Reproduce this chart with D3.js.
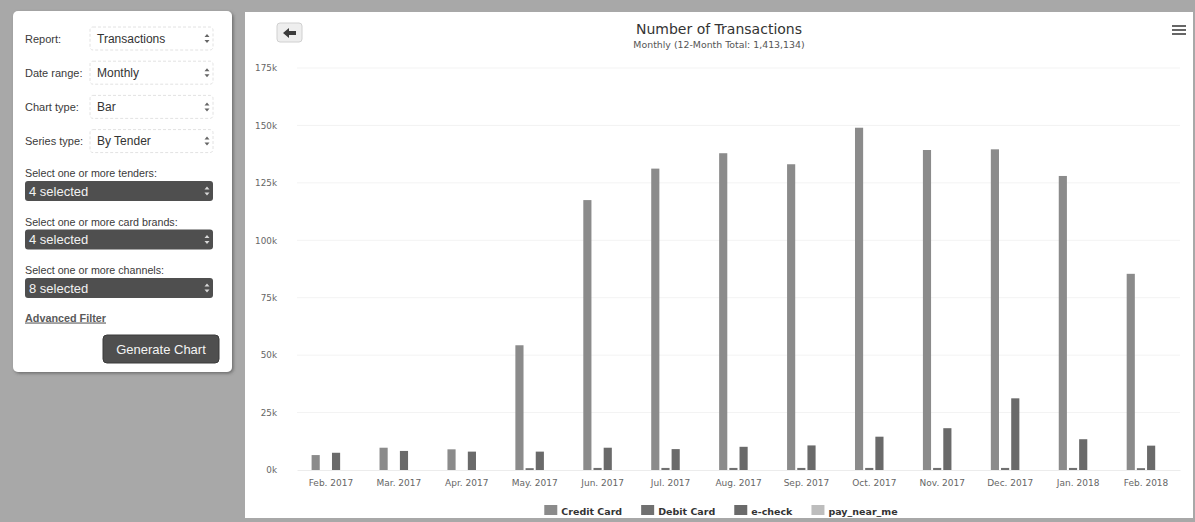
<!DOCTYPE html>
<html>
<head>
<meta charset="utf-8">
<script src="https://cdn.jsdelivr.net/npm/d3@7"></script>
<style>
  html, body { margin: 0; padding: 0; background: #a8a8a8; }
  svg { display: block; }
</style>
</head>
<body>
<svg id="view" width="1195" height="522"></svg>
<script>
// ---- chart data (transactions per month, by tender) ----
const months = ["Feb. 2017", "Mar. 2017", "Apr. 2017", "May. 2017", "Jun. 2017", "Jul. 2017",
                "Aug. 2017", "Sep. 2017", "Oct. 2017", "Nov. 2017", "Dec. 2017", "Jan. 2018", "Feb. 2018"];
const creditCard = [6500, 9700, 9000, 54300, 117500, 131200, 137900, 133100, 149000, 139300, 139600, 128000, 85400];
const debitCard  = [0, 0, 0, 800, 900, 900, 900, 900, 900, 900, 900, 900, 800];
const eCheck     = [7500, 8300, 8000, 8000, 9700, 9100, 10100, 10700, 14500, 18200, 31200, 13400, 10600];
const payNearMe  = [0, 0, 0, 0, 0, 0, 0, 0, 0, 0, 0, 0, 0];
const seriesNames = ["Credit Card", "Debit Card", "e-check", "pay_near_me"];
const yTicks = [0, 25000, 50000, 75000, 100000, 125000, 150000, 175000];
const chartTitle = "Number of Transactions";
const chartSubtitle = "Monthly (12-Month Total: 1,413,134)";

// ---- report form contents ----
const formLabels = ["Report:", "Date range:", "Chart type:", "Series type:"];
const formValues = ["Transactions", "Monthly", "Bar", "By Tender"];
const pickerLabels = ["Select one or more tenders:", "Select one or more card brands:", "Select one or more channels:"];
const pickerValues = ["4 selected", "4 selected", "8 selected"];

const seriesValues = [creditCard, debitCard, eCheck, payNearMe];
const seriesColors = ["#8b8b8b", "#707070", "#6a6a6a", "#bdbdbd"];

const svg = d3.select("#view");
const defs = svg.append("defs");
const shadow = defs.append("filter").attr("id", "panelShadow")
  .attr("x", "-10%").attr("y", "-10%").attr("width", "130%").attr("height", "130%");
shadow.append("feDropShadow").attr("dx", 1.5).attr("dy", 1.5).attr("stdDeviation", 1.5)
  .attr("flood-color", "#444").attr("flood-opacity", 0.6);

// page background
svg.append("rect").attr("width", 1195).attr("height", 522).attr("fill", "#a8a8a8");

// ================= left form panel =================
const form = svg.append("g");
form.append("rect").attr("x", 13).attr("y", 11).attr("width", 219).attr("height", 361)
  .attr("rx", 5).attr("fill", "#ffffff").attr("filter", "url(#panelShadow)");

const sansUI = "'Liberation Sans', Arial, sans-serif";

function upDownCaret(g, cx, cy, color) {
  g.append("path")
    .attr("d", `M${cx - 2.5},${cy - 1.5} L${cx},${cy - 4.5} L${cx + 2.5},${cy - 1.5} Z M${cx - 2.5},${cy + 1.5} L${cx},${cy + 4.5} L${cx + 2.5},${cy + 1.5} Z`)
    .attr("fill", color);
}

formLabels.forEach((lab, i) => {
  const cy = 38.5 + i * 34.2;
  form.append("text").attr("x", 25).attr("y", cy + 4)
    .attr("font-family", sansUI).attr("font-size", 11).attr("fill", "#3a3a3a").text(lab);
  form.append("rect").attr("x", 90).attr("y", cy - 11.5).attr("width", 123).attr("height", 23)
    .attr("rx", 3).attr("fill", "#ffffff").attr("stroke", "#e2e2e2").attr("stroke-dasharray", "3,2");
  form.append("text").attr("x", 97).attr("y", cy + 4)
    .attr("font-family", sansUI).attr("font-size", 12).attr("fill", "#333").text(formValues[i]);
  upDownCaret(form, 207, cy, "#666");
});

pickerLabels.forEach((lab, i) => {
  const ly = 173 + i * 48.5;
  form.append("text").attr("x", 25).attr("y", ly + 4)
    .attr("font-family", sansUI).attr("font-size", 10.7).attr("fill", "#3a3a3a").text(lab);
  const top = 181 + i * 48.5;
  form.append("rect").attr("x", 25).attr("y", top).attr("width", 188).attr("height", 20)
    .attr("rx", 3).attr("fill", "#4f4f4f");
  form.append("text").attr("x", 29).attr("y", top + 14.5)
    .attr("font-family", sansUI).attr("font-size", 13).attr("fill", "#f2f2f2").text(pickerValues[i]);
  upDownCaret(form, 207, top + 10, "#d8d8d8");
});

form.append("text").attr("x", 25).attr("y", 321.5)
  .attr("font-family", sansUI).attr("font-size", 10.8).attr("font-weight", "bold")
  .attr("fill", "#5a5a5a").attr("text-decoration", "underline").text("Advanced Filter");

form.append("rect").attr("x", 103).attr("y", 335).attr("width", 116).attr("height", 28)
  .attr("rx", 4).attr("fill", "#4f4f4f").attr("stroke", "#3a3a3a");
form.append("text").attr("x", 161).attr("y", 353.5).attr("text-anchor", "middle")
  .attr("font-family", sansUI).attr("font-size", 13).attr("fill", "#f4f4f4").text("Generate Chart");

// ================= chart panel =================
const chartFont = "'DejaVu Sans', Verdana, sans-serif";
const panel = svg.append("g");
panel.append("rect").attr("x", 245).attr("y", 12).attr("width", 948).attr("height", 506)
  .attr("fill", "#ffffff");

const centerX = 719;
panel.append("text").attr("x", centerX).attr("y", 33.5).attr("text-anchor", "middle")
  .attr("font-family", chartFont).attr("font-size", 14).attr("fill", "#333").text(chartTitle);
panel.append("text").attr("x", centerX).attr("y", 47.5).attr("text-anchor", "middle")
  .attr("font-family", chartFont).attr("font-size", 9.4).attr("fill", "#555").text(chartSubtitle);

// back button
panel.append("rect").attr("x", 277).attr("y", 23).attr("width", 25).attr("height", 19)
  .attr("rx", 3).attr("fill", "#eeeeee").attr("stroke", "#d0d0d0");
panel.append("path")
  .attr("d", "M283,33 L289,28 L289,31 L296,31 L296,35 L289,35 L289,38 Z")
  .attr("fill", "#3c3c3c");

// context menu icon
[26, 30, 34].forEach(yy => {
  panel.append("line").attr("x1", 1172).attr("x2", 1186).attr("y1", yy).attr("y2", yy)
    .attr("stroke", "#666").attr("stroke-width", 2);
});

// scales
const x = d3.scaleBand().domain(months).range([297, 1180]);
const xs = d3.scaleBand().domain(seriesNames)
  .range([x.bandwidth() * 0.2, x.bandwidth() * 0.8])
  .paddingInner(0.2).paddingOuter(0.1);
const y = d3.scaleLinear().domain([0, 175000]).range([470, 68]);

// faint horizontal gridlines
panel.append("g").selectAll("line").data(yTicks.slice(1)).join("line")
  .attr("x1", 297).attr("x2", 1180)
  .attr("y1", d => y(d)).attr("y2", d => y(d))
  .attr("stroke", "#f3f3f3");

// y axis
const yAxis = panel.append("g").attr("transform", "translate(277,0)")
  .call(d3.axisLeft(y).tickValues(yTicks).tickFormat(d => (d / 1000) + "k").tickSize(0).tickPadding(0));
yAxis.select(".domain").remove();
yAxis.selectAll("text").attr("font-family", chartFont).attr("font-size", 8.8).attr("fill", "#666");

// x axis
const xAxis = panel.append("g").attr("transform", "translate(0,470)")
  .call(d3.axisBottom(x).tickSize(0).tickPadding(9.6));
xAxis.select(".domain").attr("stroke", "#ececec");
xAxis.selectAll("text").attr("font-family", chartFont).attr("font-size", 9).attr("fill", "#666");

// bars
const barData = [];
months.forEach((m, i) => {
  seriesNames.forEach((s, k) => {
    barData.push({ month: m, series: s, value: seriesValues[k][i], color: seriesColors[k] });
  });
});
panel.append("g").selectAll("rect").data(barData).join("rect")
  .attr("x", d => x(d.month) + xs(d.series))
  .attr("y", d => y(d.value))
  .attr("width", xs.bandwidth())
  .attr("height", d => y(0) - y(d.value))
  .attr("fill", d => d.color);

// legend
const legend = panel.append("g");
const items = legend.selectAll("g").data(seriesNames).join("g");
items.append("rect").attr("x", 0).attr("y", -10).attr("width", 13).attr("height", 10)
  .attr("fill", (d, i) => seriesColors[i]);
items.append("text").attr("x", 17).attr("y", 0)
  .attr("font-family", chartFont).attr("font-size", 9.5).attr("font-weight", "bold")
  .attr("fill", "#333").text(d => d);
let cursor = 0;
const offsets = [];
items.each(function () {
  offsets.push(cursor);
  const w = 17 + d3.select(this).select("text").node().getComputedTextLength();
  cursor += w + 19;
});
const legendWidth = cursor - 19;
items.attr("transform", (d, i) => `translate(${offsets[i]},0)`);
legend.attr("transform", `translate(${centerX + 2 - legendWidth / 2},515)`);
</script>
</body>
</html>
